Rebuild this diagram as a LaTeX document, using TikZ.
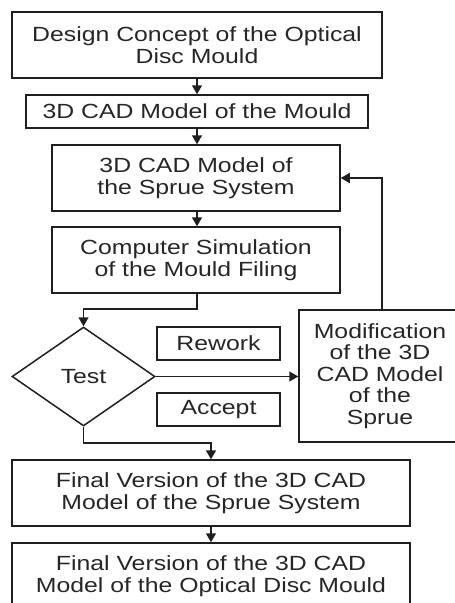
\documentclass[tikz,border=0pt]{standalone}
\usepackage{fontspec}
\setmainfont{Liberation Sans}[FakeStretch=1.21]
\usetikzlibrary{shapes.geometric, arrows.meta}
\begin{document}
\begin{tikzpicture}[x=1pt, y=-1pt, line width=1.5pt,
  font=\fontsize{20.5}{21.5}\selectfont,
  box/.style={draw=black!88, text=black!85, align=center, inner sep=0pt},
  arr/.style={draw=black!88, -{Triangle[width=10pt, length=9pt]}}]
\useasboundingbox (0,0) rectangle (455,603);
\clip (0,0) rectangle (455,603);
% main column of steps
\node[box, minimum width=370, minimum height=66] (concept) at (197,45)
  {Design Concept of the Optical\\Disc Mould};
\node[box, minimum width=342, minimum height=33] (cadmould) at (197,111.5)
  {3D CAD Model of the Mould};
\node[box, minimum width=288, minimum height=66] (cadsprue) at (196,178)
  {3D CAD Model of\\the Sprue System};
\node[box, minimum width=288, minimum height=66] (simul) at (196,260)
  {Computer Simulation\\of the Mould Filing};
% test and its two outcomes
\node[box, diamond, aspect=1.44, minimum width=143, minimum height=99] (test) at (83.5,376.5) {Test};
\node[box, minimum width=123, minimum height=33] (rework) at (218.5,343.5) {Rework};
\node[box, minimum width=123, minimum height=33] (accept) at (218.5,409.5) {Accept};
\node[box, minimum width=162, minimum height=132] (modif) at (380,376)
  {Modification\\of the 3D\\CAD Model\\of the\\Sprue};
% final versions
\node[box, minimum width=398, minimum height=66] (finalsprue) at (211,493)
  {Final Version of the 3D CAD\\Model of the Sprue System};
\node[box, minimum width=398, minimum height=66] (finalmould) at (211,576)
  {Final Version of the 3D CAD\\Model of the Optical Disc Mould};
% connectors
\draw[arr] (concept.south -| 197,0) -- (cadmould.north -| 197,0);
\draw[arr] (cadmould.south -| 197,0) -- (cadsprue.north -| 197,0);
\draw[arr] (cadsprue.south -| 197,0) -- (simul.north -| 197,0);
\draw[arr] (simul.south -| 197,0) -- ++(0,15) -| (test.north);
\draw[arr] (test.east) -- (test.east -| modif.west);
\draw[arr] (modif.north -| 382,0) |- (cadsprue.east);
\draw[arr] (test.south) -- ++(0,16) -| (finalsprue.north);
\draw[arr] (finalsprue.south) -- (finalmould.north);
\end{tikzpicture}
\end{document}
